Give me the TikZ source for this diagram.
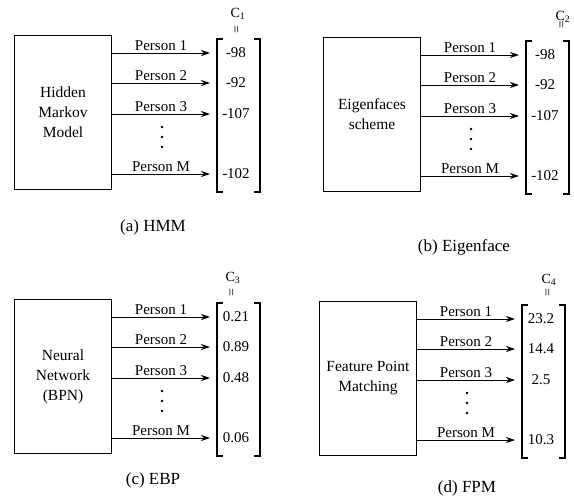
\documentclass[tikz,border=0pt]{standalone}
\usepackage{fontspec}
\setmainfont{Liberation Serif}
\usetikzlibrary{arrows.meta}

\begin{document}
\begin{tikzpicture}[x=1pt, y=-1pt,
  model/.style={draw, line width=1pt, minimum width=97pt, minimum height=154pt,
                anchor=north west, align=center, inner sep=0pt,
                font=\fontsize{15.5}{20}\selectfont},
  arr/.style={-{Stealth[length=9pt,width=6pt]}, line width=0.9pt},
  who/.style={above, inner sep=1.5pt, font=\fontsize{15}{16}\selectfont},
  val/.style={inner sep=0pt, font=\fontsize{15}{16}\selectfont},
  clab/.style={inner sep=0pt, font=\fontsize{14}{15}\selectfont},
  brk/.style={line width=1.3pt},
  captext/.style={font=\fontsize{17}{18}\selectfont}
]
\useasboundingbox (0,0) rectangle (574,501);

% one panel per method: box, score arrows, score vector, caption
\foreach \bx/\by/\k/\model/\va/\vb/\vc/\vd/\cx/\cy/\ey/\capx/\capy/\captxt in {
  14/35/1/{Hidden\\Markov\\Model}/-98/-92/-107/-102/224/-21/-5/139/192/{(a) HMM},
  323/37/2/{Eigenfaces\\scheme}/-98/-92/-107/-102/240/-20/-12/141/210/{(b) Eigenface},
  14/299/3/{Neural\\Network\\(BPN)}/0.21/0.89/0.48/0.06/219/-21/-6/139/181/{(c) EBP},
  319/301/4/{Feature Point\\Matching}/23.2/14.4/2.5/10.3/230/-21/-8/148/187/{(d) FPM}}
{
\begin{scope}[shift={(\bx,\by)}]
  \node[model] (box\k) at (0,0) {\model};
  \foreach \i/\yy/\who/\val in {1/18/Person 1/\va, 2/48/Person 2/\vb,
                                3/79/Person 3/\vc, M/139/Person M/\vd} {
    \coordinate (e\k-\i) at (196,\yy);
    \node[val] (v\k-\i) at (222,\yy) {\val};
    \draw[arr] (box\k.east |- e\k-\i) -- node[who] {\who} (e\k-\i);
  }
  \foreach \dy in {92,102,112}
    \fill (148,\dy) circle (1.4pt);
  % score vector
  \draw[brk] (209,4) -- (203,4) -- (203,157) -- (209,157);
  \draw[brk] (240,4) -- (246,4) -- (246,157) -- (240,157);
  \node[clab] (c\k) at (\cx,\cy) {C\textsubscript{\k}};
  \node[clab, rotate=90] (eq\k) at (\cx,\ey) {=};
  \node[captext] (cap\k) at (\capx,\capy) {\captxt};
\end{scope}
}
\end{tikzpicture}
\end{document}
